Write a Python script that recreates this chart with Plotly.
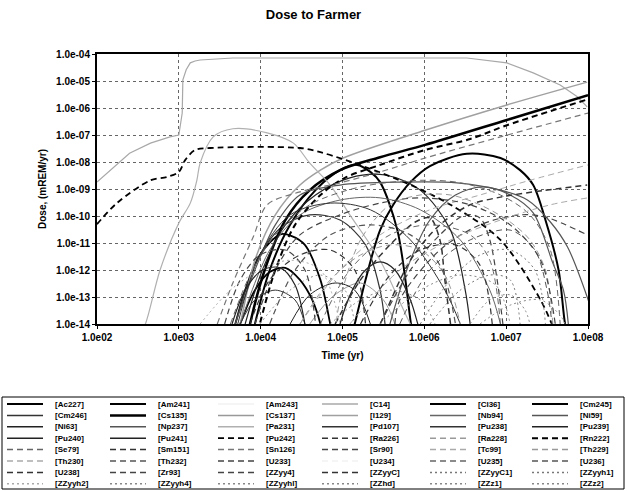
import plotly.graph_objects as go

# ---------------- data ----------------
t_ac227 = [4570, 4900, 6460, 9770, 1.74e4, 2.4e4, 3.47e4, 5.37e4, 7.08e4, 7.41e4]
d_ac227 = [5e-15, 1e-14, 1.8e-13, 3.6e-12, 2.1e-11, 1.8e-11, 8.5e-12, 4.3e-13, 1e-14, 5e-15]
t_am241 = [5250, 5620, 8510, 1.29e4, 2.0e4, 3.02e4, 4.27e4, 5.37e4, 5.62e4]
d_am241 = [5e-15, 1e-14, 1.8e-13, 8.5e-13, 1.2e-12, 4.3e-13, 7.8e-14, 1e-14, 5e-15]
t_am243 = [100, 1e8]
d_am243 = [1e-16, 1e-16]
t_c14 = [100, 145, 250, 450, 780, 1000, 1100, 1120, 1230, 1380, 1580, 1820, 4570, 3.31e6, 1.02e7, 2.14e7, 4.57e7, 7.41e7, 9.77e7]
d_c14 = [1.8e-9, 5.0e-9, 2.1e-8, 5.0e-8, 8.5e-8, 1.0e-7, 6.5e-7, 1.1e-5, 2.6e-5, 4.7e-5, 5.5e-5, 6.0e-5, 7.1e-5, 7.1e-5, 4.7e-5, 2.0e-5, 7.1e-6, 2.6e-6, 1.1e-6]
t_cl36 = [1.32e5, 1.41e5, 1.91e5, 2.88e5, 4.17e5, 6.76e5, 1.17e6, 3.31e6, 8.51e6, 1.48e7, 2.14e7, 3.02e7, 4.37e7, 5.25e7, 5.62e7]
d_cl36 = [5e-15, 1e-14, 4.3e-13, 3.0e-11, 2.6e-10, 1.8e-9, 7.1e-9, 2.0e-8, 1.4e-8, 5.0e-9, 1.4e-9, 7.1e-11, 1.0e-12, 1e-14, 5e-15]
t_cm245 = [8130, 8510, 1.29e4, 2.29e4, 4.68e4, 9.33e4, 1.51e5, 2.19e5, 2.88e5, 4.68e5, 6.76e5, 7.08e5]
d_cm245 = [5e-15, 1e-14, 1e-12, 4.7e-11, 9.1e-10, 5.0e-9, 7.8e-9, 4.3e-9, 1.8e-9, 3.0e-11, 1.4e-14, 5e-15]
t_cm246 = [4900, 8510, 1.74e4, 3.98e4, 9.33e4, 1.91e5, 2.88e5, 3.31e5]
d_cm246 = [1e-14, 1.5e-12, 3.6e-11, 1.1e-10, 7.1e-11, 8.5e-12, 1.8e-13, 1e-14]
t_cs135 = [7100, 7410, 1.12e4, 2.0e4, 3.98e4, 9.33e4, 2.88e5, 1.02e6, 1.02e7, 1e8]
d_cs135 = [5e-15, 1e-14, 1e-12, 7.1e-11, 9.1e-10, 5.0e-9, 1.5e-8, 4.3e-8, 3.6e-7, 3.0e-6]
t_cs137 = [3.47e4, 3.98e4, 7.76e4, 1.66e5, 3.16e5, 4.37e5, 4.68e5]
d_cs137 = [5e-15, 1e-14, 1.1e-13, 3.3e-13, 7.8e-14, 1e-14, 5e-15]
t_i129 = [5250, 5620, 8510, 1.51e4, 3.02e4, 5.37e4, 1.02e5, 1.02e6, 1.02e7, 9.77e7]
d_i129 = [5e-15, 1e-14, 2.3e-12, 1.1e-10, 1.4e-9, 5.0e-9, 1.4e-8, 1.5e-7, 1.3e-6, 9.1e-6]
t_nb94 = [5250, 5620, 1.29e4, 3.02e4, 9.33e4, 2.88e5, 8.91e5, 2.75e6, 6.31e6, 8.51e6]
d_nb94 = [5e-15, 1e-14, 5.5e-12, 1.1e-10, 3.9e-10, 4.7e-10, 1.7e-10, 1.3e-11, 1.8e-13, 1e-14]
t_ni59 = [3.6e5, 3.8e5, 6.76e5, 1.17e6, 2.4e6, 5.25e6, 1.12e7, 2.14e7, 3.72e7, 5.01e7, 5.75e7]
d_ni59 = [5e-15, 1e-14, 2.3e-12, 7.1e-11, 6.0e-10, 1.2e-9, 6.0e-10, 1.3e-10, 1.8e-12, 1.8e-13, 1e-14]
t_ni63 = [2.29e4, 3.98e4, 8.13e4, 1.41e5, 2.19e5]
d_ni63 = [1e-14, 1.2e-13, 3.3e-13, 1.8e-13, 1e-14]
t_np237 = [4570, 4900, 8510, 1.51e4, 3.02e4, 9.33e4, 5.01e5, 2.51e6, 8.51e6, 1.82e7, 3.47e7, 5.62e7, 9.77e7, 1.23e8]
d_np237 = [5e-15, 1e-14, 1e-12, 4.7e-11, 6.0e-10, 1.4e-9, 1.8e-9, 1.7e-9, 9.1e-10, 3.9e-10, 6.0e-11, 7.1e-12, 1.0e-13, 1e-14]
t_pa231 = [340, 390, 590, 1000, 1380, 1660, 1820, 2630, 4570, 1.2e4, 2.51e4, 3.98e4, 7.08e4, 1.23e5, 2.88e5, 6.76e5, 8.0e5]
d_pa231 = [5e-15, 1e-14, 1e-12, 5.5e-11, 3.0e-10, 2.1e-9, 9.1e-9, 8.5e-8, 1.7e-7, 1.2e-7, 5.0e-8, 9.1e-9, 1.4e-9, 1.1e-10, 2.3e-12, 1e-14, 5e-15]
t_pd107 = [5250, 9770, 2.29e4, 7.08e4, 2.19e5, 6.76e5, 1.78e6, 2.75e6]
d_pd107 = [1e-14, 3.6e-12, 1.1e-10, 3.0e-10, 1.7e-10, 1.3e-11, 1.8e-13, 1e-14]
t_pu238 = [5620, 8510, 1.51e4, 2.63e4, 3.47e4]
d_pu238 = [1e-14, 7.8e-14, 1.8e-13, 7.8e-14, 1e-14]
t_pu239 = [8.9e4, 9.33e4, 1.32e5, 1.91e5, 2.88e5, 4.37e5, 6.76e5, 8.32e5, 8.91e5]
d_pu239 = [5e-15, 1e-14, 1.8e-13, 1e-12, 2.0e-12, 1e-12, 7.8e-14, 1e-14, 5e-15]
t_pu240 = [6460, 1.05e4, 2.0e4, 4.68e4, 1.23e5, 3.31e5, 8.91e5, 2.09e6, 3.16e6, 3.63e6]
d_pu240 = [1e-14, 1e-12, 4.7e-11, 6.0e-10, 2.6e-9, 3.3e-9, 9.1e-10, 3.0e-11, 1.8e-13, 1e-14]
t_pu241 = [4470, 6460, 1.05e4, 1.74e4, 2.63e4, 3.47e4]
d_pu241 = [1e-14, 1.8e-13, 1e-12, 1.2e-12, 2.8e-13, 1e-14]
t_pu242 = [100, 175, 450, 720, 1000, 1200, 1580, 2400, 3.02e4, 5.37e4, 1.07e5, 5.01e5, 2.09e6, 8.51e6, 2.63e7, 3.98e7]
d_pu242 = [5.0e-11, 3.0e-10, 2.1e-9, 2.8e-9, 4.3e-9, 1.2e-8, 2.8e-8, 3.3e-8, 3.3e-8, 2.3e-8, 1.2e-8, 2.1e-9, 2.6e-10, 1.3e-11, 7.8e-14, 5e-15]
t_ra226 = [2.51e5, 2.88e5, 6.76e5, 1.55e6, 3.63e6, 8.51e6, 2.14e7, 9.77e7]
d_ra226 = [5e-15, 1e-14, 2.3e-12, 4.7e-11, 2.6e-10, 5.0e-10, 7.8e-10, 1.4e-9]
t_ra228 = [3.02e4, 7.08e4, 1.66e5, 3.8e5, 8.91e5, 1.78e6, 2.75e6]
d_ra228 = [1e-14, 4.3e-13, 3.6e-12, 8.5e-12, 5.5e-12, 6.5e-13, 1e-14]
t_rn222 = [9300, 9770, 1.51e4, 2.63e4, 5.37e4, 1.07e5, 2.88e5, 1.02e6, 3.63e6, 1.02e7, 1e8]
d_rn222 = [5e-15, 1e-14, 1e-12, 4.7e-11, 6.0e-10, 2.6e-9, 7.8e-9, 2.8e-8, 7.1e-8, 2.3e-7, 2.1e-6]
t_se79 = [4270, 7410, 1.51e4, 3.98e4, 1.66e5, 8.91e5, 2.75e6, 8.51e6, 1.95e7, 3.47e7, 4.57e7]
d_se79 = [1e-14, 6.5e-13, 2.0e-11, 2.6e-10, 1.2e-9, 2.1e-9, 1.7e-9, 6.0e-10, 1.1e-10, 5.5e-12, 1e-14]
t_sm151 = [8.13e4, 1.66e5, 3.8e5, 7.76e5, 1.17e6, 1.55e6, 1.78e6, 2.09e6]
d_sm151 = [1e-14, 4.3e-13, 8.5e-12, 6.0e-11, 8.5e-11, 1.3e-11, 4.3e-13, 1e-14]
t_sn126 = [2950, 4570, 8130, 1.2e4, 3.02e4, 9.33e4, 2.88e5, 1.02e6, 8.51e6, 1e8]
d_sn126 = [1e-14, 3.3e-13, 1.7e-11, 2.6e-10, 7.8e-10, 1.7e-9, 4.3e-9, 1.4e-8, 8.5e-8, 6.5e-7]
t_sr90 = [4.37e5, 5.01e5, 1.55e6, 4.79e6, 1.48e7, 3.02e7, 9.77e7]
d_sr90 = [1e-14, 7.8e-14, 5.5e-12, 4.7e-11, 1.1e-10, 9.1e-11, 2.0e-11]
t_tc99 = [3.02e4, 9.33e4, 2.88e5, 1.17e6, 4.79e6, 1.95e7, 1e8]
d_tc99 = [1e-14, 1e-12, 2.0e-11, 1.7e-10, 6.0e-10, 2.1e-9, 7.8e-9]
t_th229 = [8.13e4, 9.33e4, 1.66e5, 3.8e5, 8.91e5, 2.09e6, 4.79e6, 1.12e7, 1.95e7, 3.02e7, 3.72e7]
d_th229 = [5e-15, 7.8e-14, 1.3e-11, 2.6e-10, 6.0e-10, 6.0e-10, 2.6e-10, 6.0e-11, 1.3e-11, 1.0e-12, 1e-14]
t_th230 = [1.23e5, 5.01e5, 2.09e6, 8.51e6, 3.47e7, 1e8]
d_th230 = [1e-14, 1e-12, 1.3e-11, 7.1e-11, 2.6e-10, 4.7e-10]
t_th232 = [1.29e4, 2.63e4, 7.08e4, 2.19e5, 6.76e5, 1.55e6, 2.4e6]
d_th232 = [1e-14, 1e-12, 2.0e-11, 4.7e-11, 2.0e-11, 1.5e-12, 1e-14]
t_u233 = [2.88e5, 6.76e5, 1.55e6, 3.16e6, 4.79e6, 6.31e6, 7.76e6, 9.12e6]
d_u233 = [1e-14, 1e-12, 2.0e-11, 1.1e-10, 8.5e-11, 1.3e-11, 4.3e-13, 1e-14]
t_u234 = [100, 1e8]
d_u234 = [1e-16, 1e-16]
t_u235 = [5.37e4, 1.23e5, 3.8e5, 1.17e6, 3.63e6, 6.31e6, 8.51e6]
d_u235 = [1e-14, 1e-12, 2.0e-11, 4.7e-11, 2.0e-11, 2.3e-12, 1e-14]
t_u236 = [5.01e5, 1.17e6, 3.63e6, 1.12e7, 2.24e7, 3.16e7, 3.63e7]
d_u236 = [1e-14, 1e-12, 1.3e-11, 3.0e-11, 5.5e-12, 1.8e-13, 1e-14]
t_u238 = [1.66e5, 3.8e5, 8.91e5, 2.4e6, 4.79e6, 6.76e6]
d_u238 = [1e-14, 6.5e-13, 5.5e-12, 8.5e-12, 1.5e-12, 1e-14]
t_zr93 = [8510, 1.51e4, 3.02e4, 9.33e4, 2.88e5, 8.91e5, 3.63e6, 1.12e7, 2.63e7, 3.98e7]
d_zr93 = [1e-14, 1e-12, 2.0e-11, 1.1e-10, 3.0e-10, 4.7e-10, 2.6e-10, 4.7e-11, 2.3e-12, 1e-14]
t_zz1 = [3630, 5620, 9770, 2.0e4, 3.47e4, 4.68e4]
d_zz1 = [1e-14, 4.3e-13, 3.6e-12, 5.5e-12, 1e-12, 1e-14]
t_zz2 = [7410, 1.29e4, 3.02e4, 7.08e4, 1.41e5, 1.91e5]
d_zz2 = [1e-14, 4.3e-13, 3.6e-12, 5.5e-12, 1e-12, 1e-14]
t_zz3 = [8.91e5, 2.09e6, 4.79e6, 1.12e7, 2.24e7, 3.02e7]
d_zz3 = [1e-14, 4.3e-13, 3.6e-12, 5.5e-12, 1e-12, 1e-14]
t_zz4 = [1.17e6, 2.75e6, 6.31e6, 1.12e7, 1.48e7]
d_zz4 = [1e-14, 1.8e-13, 6.5e-13, 4.3e-13, 1e-14]
t_zz5 = [1820, 4270, 9770, 2.29e4, 5.37e4, 9.33e4]
d_zz5 = [1e-14, 1.8e-13, 1e-12, 2.3e-12, 1e-12, 1e-14]
t_zz6 = [7.08e4, 1.66e5, 3.8e5, 8.91e5, 1.35e6]
d_zz6 = [1e-14, 7.8e-14, 1.8e-13, 7.8e-14, 1e-14]
t_zz7 = [3.63e6, 6.31e6, 1.12e7, 1.7e7, 1.95e7]
d_zz7 = [1e-14, 7.8e-14, 1.2e-13, 3.3e-14, 1e-14]
t_zz8 = [9770, 2.29e4, 5.37e4, 1.07e5, 1.41e5]
d_zz8 = [1e-14, 1.8e-13, 6.5e-13, 1.8e-13, 1e-14]
t_zz9 = [2.88e5, 8.91e5, 2.75e6, 7.41e6, 1.12e7]
d_zz9 = [1e-14, 1.8e-13, 6.5e-13, 2.8e-13, 1e-14]
t_zz10 = [4.79e6, 1.12e7, 2.63e7, 4.57e7, 5.25e7]
d_zz10 = [1e-14, 5.0e-14, 7.8e-14, 2.1e-14, 1e-14]

names = ["[Ac227]", "[Am241]", "[Am243]", "[C14]", "[Cl36]", "[Cm245]",
         "[Cm246]", "[Cs135]", "[Cs137]", "[I129]", "[Nb94]", "[Ni59]",
         "[Ni63]", "[Np237]", "[Pa231]", "[Pd107]", "[Pu238]", "[Pu239]",
         "[Pu240]", "[Pu241]", "[Pu242]", "[Ra226]", "[Ra228]", "[Rn222]",
         "[Se79]", "[Sm151]", "[Sn126]", "[Sr90]", "[Tc99]", "[Th229]",
         "[Th230]", "[Th232]", "[U233]", "[U234]", "[U235]", "[U236]",
         "[U238]", "[Zr93]", "[ZZyy4]", "[ZZyyC]", "[ZZyyC1]", "[ZZyyh1]",
         "[ZZyyh2]", "[ZZyyh4]", "[ZZyyhl]", "[ZZhd]", "[ZZz1]", "[ZZz2]"]
times = [t_ac227, t_am241, t_am243, t_c14, t_cl36, t_cm245,
         t_cm246, t_cs135, t_cs137, t_i129, t_nb94, t_ni59,
         t_ni63, t_np237, t_pa231, t_pd107, t_pu238, t_pu239,
         t_pu240, t_pu241, t_pu242, t_ra226, t_ra228, t_rn222,
         t_se79, t_sm151, t_sn126, t_sr90, t_tc99, t_th229,
         t_th230, t_th232, t_u233, t_u234, t_u235, t_u236,
         t_u238, t_zr93, t_zz1, t_zz2, t_zz3, t_zz4,
         t_zz5, t_zz6, t_zz7, t_zz8, t_zz9, t_zz10]
doses = [d_ac227, d_am241, d_am243, d_c14, d_cl36, d_cm245,
         d_cm246, d_cs135, d_cs137, d_i129, d_nb94, d_ni59,
         d_ni63, d_np237, d_pa231, d_pd107, d_pu238, d_pu239,
         d_pu240, d_pu241, d_pu242, d_ra226, d_ra228, d_rn222,
         d_se79, d_sm151, d_sn126, d_sr90, d_tc99, d_th229,
         d_th230, d_th232, d_u233, d_u234, d_u235, d_u236,
         d_u238, d_zr93, d_zz1, d_zz2, d_zz3, d_zz4,
         d_zz5, d_zz6, d_zz7, d_zz8, d_zz9, d_zz10]

x_tickvals = [1e2, 1e3, 1e4, 1e5, 1e6, 1e7, 1e8]
x_ticktext = ["1.0e02", "1.0e03", "1.0e04", "1.0e05", "1.0e06", "1.0e07", "1.0e08"]
y_tickvals = [1e-14, 1e-13, 1e-12, 1e-11, 1e-10, 1e-9, 1e-8, 1e-7, 1e-6, 1e-5, 1e-4]
y_ticktext = ["1.0e-14", "1.0e-13", "1.0e-12", "1.0e-11", "1.0e-10", "1.0e-09",
              "1.0e-08", "1.0e-07", "1.0e-06", "1.0e-05", "1.0e-04"]

# ---------------- styles ----------------
S, D, O = "solid", "6px,4px", "2px,3px"
colors = ["#000", "#000", "#f2f2f2", "#a8a8a8", "#000", "#000",
          "#333", "#000", "#999", "#a0a0a0", "#666", "#555",
          "#222", "#555", "#b0b0b0", "#333", "#333", "#222",
          "#222", "#222", "#000", "#333", "#999", "#000",
          "#666", "#333", "#777", "#444", "#aaa", "#999",
          "#aaa", "#555", "#444", "#f2f2f2", "#666", "#555",
          "#333", "#444", "#444", "#333", "#777", "#777",
          "#aaa", "#888", "#888", "#888", "#888", "#888"]
dashes = [S, S, S, S, S, S,
          S, S, S, S, S, S,
          S, S, S, S, S, S,
          S, S, D, D, D, D,
          D, D, D, D, D, D,
          D, D, D, D, D, D,
          D, D, D, D, O, O,
          O, O, O, O, O, O]
widths = [1.8, 1.8, 1, 1.2, 2, 2,
          1.2, 2.5, 1, 1.5, 1, 1.2,
          1, 1.2, 1.2, 1, 1, 1.2,
          1.2, 1.2, 1.8, 1.5, 1, 2,
          1, 1.5, 1.2, 1.2, 1, 1,
          1, 1.2, 1.2, 1, 1, 1,
          1.2, 1.2, 1.2, 1.2, 1, 1,
          1, 1, 1, 1, 1, 1]

FONT = "Liberation Sans"
fig = go.Figure()
for name, t, d, c, ds, w in zip(names, times, doses, colors, dashes, widths):
    shape = "linear" if name == "[C14]" else "spline"
    fig.add_trace(go.Scatter(x=t, y=d, mode="lines", name=name, showlegend=False,
                             line=dict(color=c, dash=ds, width=w, shape=shape, smoothing=0.9)))

# ---------------- layout ----------------
L0, T0, PW, PH = 97, 54, 491, 270
W, H = 627, 491

def px(x):
    return (x - L0) / PW

def py(y):
    return (T0 + PH - y) / PH

shapes = [dict(type="rect", xref="paper", yref="paper", x0=px(2), x1=px(624),
               y0=py(397), y1=py(489), line=dict(color="#000", width=1))]
annotations = []
col_x = [7, 110, 218, 322, 430, 532]
for i, (name, c, ds, w) in enumerate(zip(names, colors, dashes, widths)):
    r, k = divmod(i, 6)
    yy = 404 + 11.4 * r
    x0 = col_x[k]
    shapes.append(dict(type="line", xref="paper", yref="paper", x0=px(x0), x1=px(x0 + 36),
                       y0=py(yy), y1=py(yy), line=dict(color=c, dash=ds, width=max(w, 1.5))))
    annotations.append(dict(xref="paper", yref="paper", x=px(x0 + 46), y=py(yy), text=name,
                            showarrow=False, xanchor="left", yanchor="middle",
                            font=dict(family=FONT, size=8, color="#000", weight="bold")))

axis_common = dict(type="log", showline=True, mirror=True, linecolor="#000", linewidth=2,
                   showgrid=True, gridcolor="#666", griddash="dot", gridwidth=1,
                   ticks="outside", ticklen=3, tickcolor="#000", zeroline=False,
                   tickfont=dict(family=FONT, size=10, color="#000", weight="bold"))

fig.update_layout(
    width=W, height=H, autosize=False,
    margin=dict(l=L0, r=W - L0 - PW, t=T0, b=H - T0 - PH),
    paper_bgcolor="#fff", plot_bgcolor="#fff",
    title=dict(text="Dose to Farmer", x=0.5, xref="container", y=1 - 14 / H, yref="container",
               xanchor="center", yanchor="middle",
               font=dict(family=FONT, size=13, color="#000", weight="bold")),
    xaxis=dict(axis_common, range=[2, 8], tickvals=x_tickvals, ticktext=x_ticktext,
               title=dict(text="Time (yr)", standoff=10,
                          font=dict(family=FONT, size=10, color="#000", weight="bold"))),
    yaxis=dict(axis_common, range=[-14, -4], tickvals=y_tickvals, ticktext=y_ticktext,
               title=dict(text="Dose, (mREM/yr)", standoff=8,
                          font=dict(family=FONT, size=10, color="#000", weight="bold"))),
    shapes=shapes, annotations=annotations, showlegend=False,
)

fig.write_html("out.html", config={"displayModeBar": False},
               post_script="document.body.style.margin='0';document.body.style.overflow='hidden';")
